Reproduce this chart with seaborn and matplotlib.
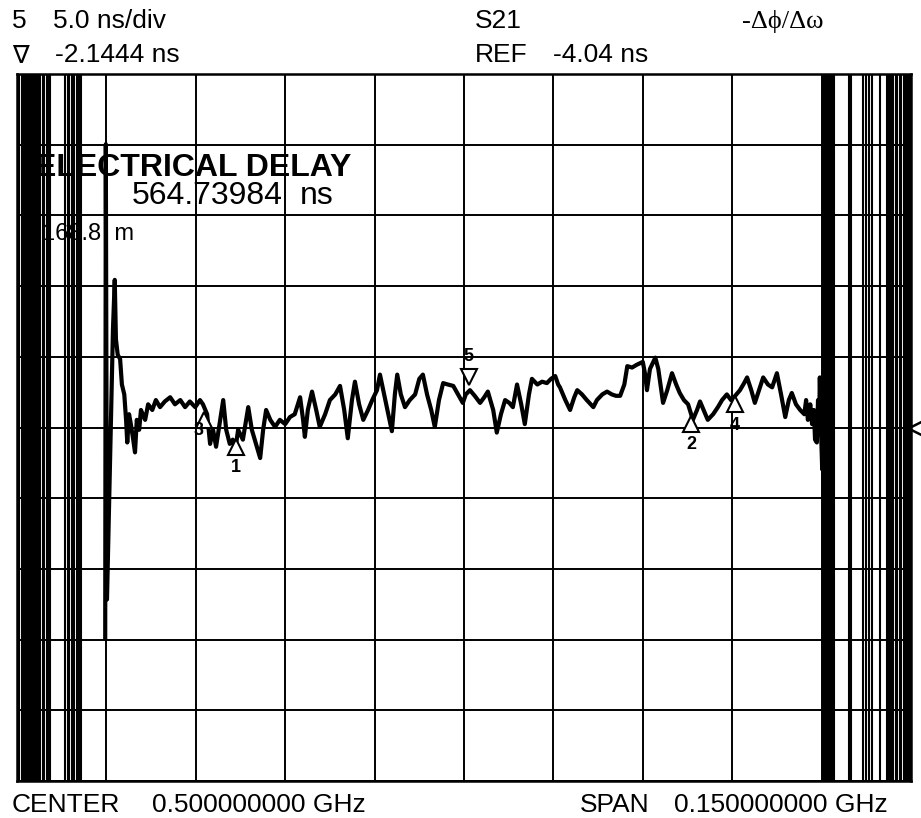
import numpy as np
import pandas as pd
import matplotlib
matplotlib.use("Agg")
import matplotlib.pyplot as plt
from matplotlib.path import Path
from matplotlib.transforms import ScaledTranslation, blended_transform_factory
import seaborn as sns

# ---------------- instrument settings (from the screen) ----------------
center_mhz = 500.0
span_mhz = 150.0
scale_ns_per_div = 5.0
ref_ns = -4.04
n_div = 10

# ---------------- main group-delay trace (MHz, ns) ----------------
trace_mhz = [
    439.8, 439.9, 440.1, 441.1, 441.4, 441.6, 441.9, 442.3, 442.6, 443.0,
    443.3, 443.5, 443.8, 444.1, 444.5, 444.8, 445.1, 445.5, 445.8, 446.5,
    447.0, 447.7, 448.3, 449.0, 449.8, 450.7, 451.5, 452.4, 453.2, 454.0,
    454.9, 455.7, 456.2, 456.9, 457.4, 457.9, 458.4, 459.1, 459.6, 460.1,
    460.7, 461.2, 461.6, 462.1, 462.9, 463.8, 464.4, 465.1, 465.8, 466.3,
    466.8, 467.5, 468.3, 469.1, 470.0, 470.8, 471.6, 472.5, 473.0, 473.3,
    473.8, 474.5, 475.2, 475.8, 476.7, 477.5, 478.4, 479.2, 479.9, 480.5,
    481.2, 481.7, 482.4, 483.1, 483.9, 484.6, 485.4, 485.9, 486.6, 487.3,
    487.9, 488.4, 488.8, 489.4, 490.1, 490.9, 491.8, 492.5, 493.1, 493.8,
    494.5, 495.1, 495.8, 496.5, 497.3, 498.2, 499.0, 499.8, 500.3, 501.0,
    501.8, 502.7, 503.4, 504.0, 504.9, 505.5, 506.2, 506.9, 507.6, 508.2,
    508.9, 509.6, 510.2, 510.9, 511.4, 512.3, 513.1, 513.9, 514.6, 515.3,
    515.8, 516.1, 517.0, 517.8, 518.5, 519.0, 519.8, 520.6, 521.7, 522.3,
    523.2, 524.0, 524.8, 525.5, 526.2, 526.9, 527.4, 528.2, 529.0, 530.0,
    530.4, 530.7, 531.2, 532.1, 532.6, 533.4, 534.1, 534.9, 535.6, 536.2,
    536.9, 537.6, 538.4, 539.1, 539.6, 540.3, 540.9, 541.8, 542.6, 543.3,
    544.1, 544.8, 545.5, 546.3, 547.0, 547.5, 548.2, 548.8, 549.5, 550.2,
    551.0, 551.7, 552.5, 553.2, 553.9, 554.5, 555.0, 555.7, 556.4, 557.1,
    557.4, 557.7, 558.1, 558.4, 558.7, 558.9, 559.2, 559.4, 559.6, 559.7,
    559.9, 560.1, 560.2, 560.4, 560.6, 560.7, 560.9, 561.1, 561.2, 561.4,
]
trace_ns = [
    -19.0, 16.0, -16.2, 2.9, 6.4, 2.2, 1.1, 0.8, -1.0, -1.7,
    -3.5, -5.1, -3.1, -3.8, -4.9, -5.8, -3.5, -4.2, -2.8, -3.5,
    -2.4, -2.8, -2.1, -2.6, -2.2, -1.9, -2.4, -2.1, -2.6, -2.2,
    -2.6, -2.1, -2.4, -3.1, -5.2, -4.2, -5.4, -3.5, -2.1, -4.2,
    -5.2, -4.9, -5.7, -4.2, -4.9, -2.6, -4.2, -5.2, -6.2, -4.2,
    -2.8, -3.5, -4.0, -3.5, -3.8, -3.3, -3.1, -1.9, -3.5, -4.7,
    -2.8, -1.5, -2.8, -4.0, -3.1, -2.1, -1.7, -1.1, -2.8, -4.8,
    -2.1, -0.8, -2.4, -3.5, -2.8, -2.1, -1.4, -0.3, -1.7, -3.1,
    -4.3, -1.7, -0.3, -1.7, -2.6, -2.1, -1.7, -0.6, -0.3, -1.7,
    -2.8, -4.0, -2.1, -0.9, -1.0, -1.1, -1.7, -2.3, -1.7, -1.4,
    -1.8, -2.3, -1.9, -1.5, -2.8, -4.4, -3.1, -2.1, -2.3, -2.6,
    -1.0, -2.4, -3.8, -1.7, -0.6, -1.0, -0.8, -0.9, -0.6, -0.4,
    -1.0, -1.2, -2.1, -2.8, -1.9, -1.4, -1.7, -2.1, -2.6, -2.1,
    -1.7, -1.5, -1.7, -1.8, -1.8, -1.0, 0.3, 0.2, 0.4, 0.6,
    -0.3, -1.4, 0.1, 0.9, 0.1, -2.3, -1.4, -0.2, -1.0, -1.6,
    -2.1, -2.4, -3.5, -2.8, -2.2, -2.9, -3.5, -3.1, -2.6, -2.1,
    -1.7, -2.1, -1.8, -1.4, -0.9, -0.5, -1.4, -2.3, -1.4, -0.5,
    -1.0, -1.2, -0.2, -1.7, -3.3, -2.1, -1.6, -2.4, -2.8, -3.1,
    -2.1, -3.5, -2.4, -3.8, -2.8, -4.9, -5.1, -2.1, -3.5, -0.5,
    -4.2, -7.0, -3.5, -10.6, -7.0, -16.2, -20.8, -13.4, -19.0, -20.8,
]

# band edges: trace wraps past full scale -> full-height strokes (MHz)
noise_left_mhz = [
    425.1, 425.4, 425.8, 426.1, 426.5, 426.8, 427.2, 427.5, 427.9, 428.2,
    428.6, 428.9, 429.3, 429.6, 430.0, 430.3, 430.6,
    433.1, 433.5, 433.8, 434.2, 434.6, 435.0, 435.4, 435.8,
]
noise_right_mhz = [
    560.3, 560.6, 560.9, 561.2, 561.5, 561.8, 562.1,
    564.6, 564.9,
    566.9, 567.4, 568.0, 568.4,
    569.8,
    571.0, 571.3, 571.7, 572.0, 572.4, 572.7, 573.1, 573.4, 573.8, 574.1,
    574.5, 574.8,
]
off_top_ns = 28.0      # beyond the top of the screen
off_bottom_ns = -36.0  # beyond the bottom of the screen

# markers: label, frequency (MHz), delay (ns) at the trace
marker_ids = ["1", "2", "3", "4", "5"]
marker_mhz = [461.7, 538.1, 456.4, 545.5, 500.8]
marker_ns = [-4.9, -3.3, -3.0, -1.9, -1.0]
marker_up = [True, True, True, True, False]

# ---------------- build frames ----------------
rows = []
for k, f in enumerate(noise_left_mhz + noise_right_mhz):
    rows.append({"f": f, "d": off_top_ns, "seg": k})
    rows.append({"f": f, "d": off_bottom_ns, "seg": k})
noise_df = pd.DataFrame(rows)
trace_df = pd.DataFrame({"f": trace_mhz, "d": trace_ns, "seg": 0})

sns.set_style("white")
plt.rcParams["font.family"] = ["Liberation Sans", "DejaVu Sans"]
plt.rcParams["text.color"] = "black"

W, H = 921, 818
fig = plt.figure(figsize=(W / 100, H / 100), dpi=100)
L, T, R, B = 17, 74, 911, 781
ax = fig.add_axes([L / W, 1 - B / H, (R - L) / W, (B - T) / H])

xmin, xmax = center_mhz - span_mhz / 2, center_mhz + span_mhz / 2
ymin, ymax = ref_ns - scale_ns_per_div * n_div / 2, ref_ns + scale_ns_per_div * n_div / 2

sns.lineplot(data=noise_df, x="f", y="d", units="seg", estimator=None, sort=False,
             color="black", lw=1.5, ax=ax, legend=False)
sns.lineplot(data=trace_df, x="f", y="d", units="seg", estimator=None, sort=False,
             color="black", lw=3.0, ax=ax, legend=False)

ax.set_xlim(xmin, xmax)
ax.set_ylim(ymin, ymax)
ax.set_xticks(np.linspace(xmin, xmax, n_div + 1))
ax.set_yticks(np.linspace(ymin, ymax, n_div + 1))
ax.grid(True, color="black", lw=1.4)
ax.tick_params(length=0, labelbottom=False, labelleft=False)
ax.set_xlabel("")
ax.set_ylabel("")
for s in ax.spines.values():
    s.set_visible(True)
    s.set_color("black")
    s.set_linewidth(1.8)

# markers (triangle apex sits on the trace)
for mid, mf, md, up in zip(marker_ids, marker_mhz, marker_ns, marker_up):
    dy = -5.2 if up else 5.2
    tr = ax.transData + ScaledTranslation(0, dy / 72, fig.dpi_scale_trans)
    ax.plot([mf], [md], marker="^" if up else "v", ms=11, mfc="white", mec="black",
            mew=1.5, transform=tr, clip_on=False, zorder=5)
    if mid == "3":
        off = (-4, -13)
    elif up:
        off = (0, -20)
    else:
        off = (0, 20)
    ax.annotate(mid, (mf, md), xytext=off, textcoords="offset points",
                ha="center", va="center", fontsize=13, fontweight="bold", zorder=6)

# reference-level pointer on the right edge
ref_path = Path([(1, 1), (-1, 0), (1, -1)], [Path.MOVETO, Path.LINETO, Path.LINETO])
btr = blended_transform_factory(ax.transAxes, ax.transData)
ax.plot([1.0], [ref_ns], marker=ref_path, ms=13, mfc="none", mec="black", mew=1.8,
        transform=btr + ScaledTranslation(4 / 72, 0, fig.dpi_scale_trans), clip_on=False)

# ---------------- screen annotations ----------------
def ftext(x, y, s, **kw):
    fig.text(x / W, 1 - y / H, s, va="baseline", ha="left", **kw)

fs = 19
ftext(12, 28, "5", fontsize=fs)
ftext(53, 28, "5.0 ns/div", fontsize=fs)
ftext(12, 62, "\u2207", fontsize=fs - 1, family=["DejaVu Sans"])
ftext(55, 62, "-2.1444 ns", fontsize=fs)
ftext(475, 28, "S21", fontsize=fs)
ftext(475, 62, "REF", fontsize=fs)
ftext(553, 62, "-4.04 ns", fontsize=fs)
ftext(742, 28, "-\u0394\u03d5/\u0394\u03c9", fontsize=fs, family=["Liberation Serif", "DejaVu Serif"])

ftext(35, 176, "ELECTRICAL DELAY", fontsize=23, fontweight="bold")
ftext(132, 204, "564.73984", fontsize=23)
ftext(300, 204, "ns", fontsize=23)
ftext(42, 240, "168.8  m", fontsize=17)

ftext(12, 812, "CENTER", fontsize=fs)
ftext(152, 812, "0.500000000 GHz", fontsize=fs)
ftext(580, 812, "SPAN", fontsize=fs)
ftext(674, 812, "0.150000000 GHz", fontsize=fs)

fig.savefig("out.png", dpi=100, facecolor="white")
